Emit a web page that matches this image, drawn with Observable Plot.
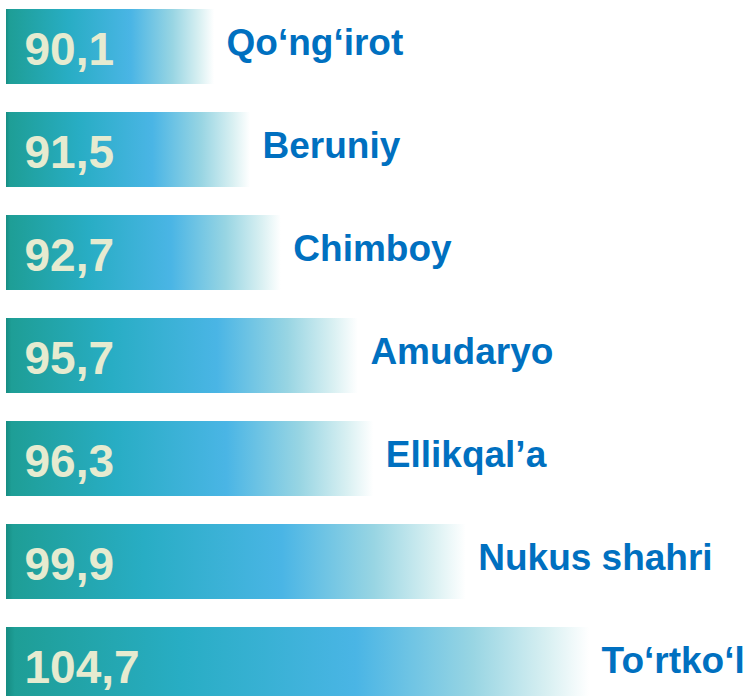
<!DOCTYPE html>
<html>
<head>
<meta charset="utf-8">
<script src="https://cdn.jsdelivr.net/npm/d3@7"></script>
<script src="https://cdn.jsdelivr.net/npm/@observablehq/plot@0.6"></script>
<style>
  html, body { margin: 0; padding: 0; background: #fff; }
  #chart { width: 756px; height: 696px; overflow: hidden; }
</style>
</head>
<body>
<div id="chart"></div>
<script>
// Data
const districts = ["Qo‘ng‘irot", "Beruniy", "Chimboy", "Amudaryo", "Ellikqal’a", "Nukus shahri", "To‘rtko‘l"];
const values = [90.1, 91.5, 92.7, 95.7, 96.3, 99.9, 104.7];

// Scale settings
const xStart = 82;
const xEnd = 111.2;

const data = districts.map((name, i) => ({name, value: values[i]}));
const fmt = v => v.toFixed(1).replace(".", ",");

const chart = Plot.plot({
  width: 756,
  height: 696,
  marginLeft: 6,
  marginRight: 0,
  marginTop: 8,
  marginBottom: -8,
  style: {background: "white", overflow: "hidden"},
  x: {domain: [xStart, xEnd], axis: null},
  y: {domain: districts, axis: null, paddingInner: 0.27, paddingOuter: 0},
  marks: [
    Plot.barX(data, {x1: () => xStart, x2: "value", y: "name", fill: "url(#barGrad)"}),
    Plot.text(data, {
      x: () => xStart, y: "name", text: d => fmt(d.value),
      dx: 18, dy: 3, textAnchor: "start",
      fontSize: 46, fontWeight: "bold", fontFamily: "Liberation Sans, Arial, sans-serif",
      fill: "#E6EBD0"
    }),
    Plot.text(data, {
      x: "value", y: "name", text: "name",
      dx: 12, dy: -4, textAnchor: "start",
      fontSize: 37, fontWeight: "bold", fontFamily: "Liberation Sans, Arial, sans-serif",
      fill: "#0070C0"
    })
  ]
});

// gradient definition for the bars
const svg = d3.select(chart);
const defs = svg.insert("defs", ":first-child");
const grad = defs.append("linearGradient").attr("id", "barGrad")
  .attr("x1", "0%").attr("x2", "100%").attr("y1", "0%").attr("y2", "0%");
[
  [0, "#168C82"],
  [0.015, "#1E9E96"],
  [0.3, "#28ADC4"],
  [0.6, "#4AB5E5"],
  [0.8, "#98D5E3"],
  [0.93, "#D9F0F2"],
  [1, "#FFFFFF"]
].forEach(([o, c]) => grad.append("stop").attr("offset", o).attr("stop-color", c));

document.getElementById("chart").appendChild(chart);
</script>
</body>
</html>
